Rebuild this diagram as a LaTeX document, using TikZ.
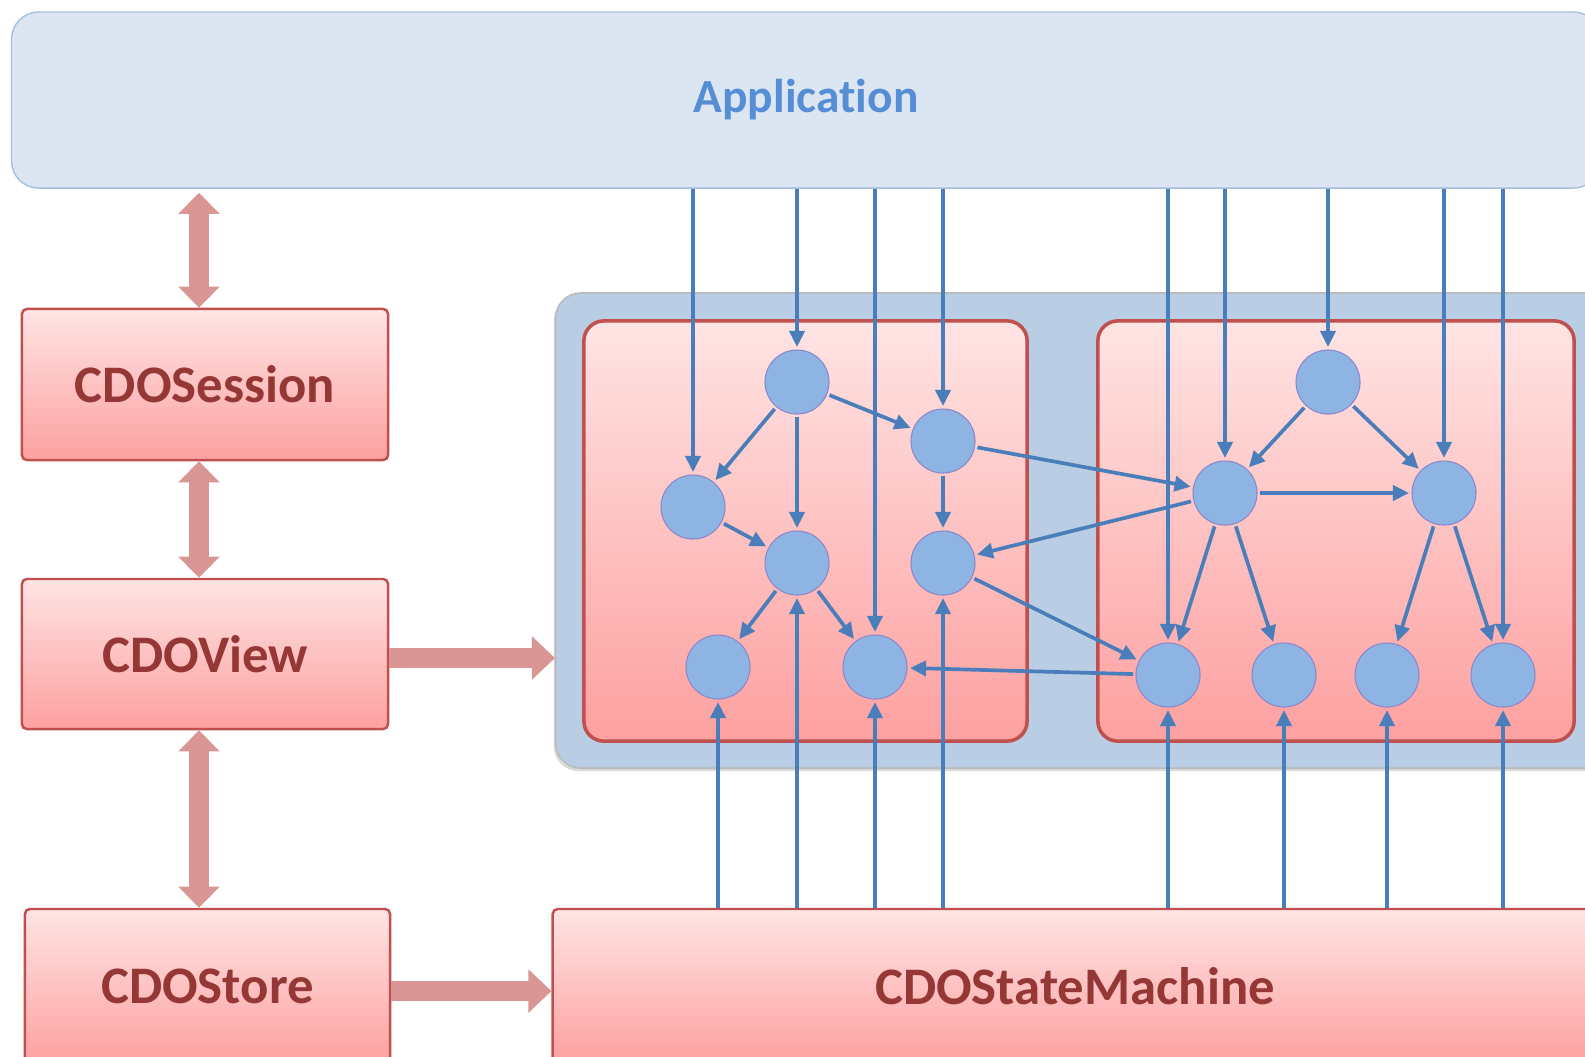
\documentclass[tikz,border=0pt]{standalone}
\usepackage{fontspec}
\setmainfont{Carlito}[Ligatures=NoCommon]
\usetikzlibrary{positioning, arrows.meta, shadows}
\definecolor{appfill}{HTML}{DCE6F2}
\definecolor{appline}{HTML}{A7BFDE}
\definecolor{apptext}{HTML}{558ED5}
\definecolor{redtop}{HTML}{FFE4E4}
\definecolor{redbot}{HTML}{FDA0A0}
\definecolor{redline}{HTML}{C0504D}
\definecolor{redtext}{HTML}{953735}
\definecolor{fatpink}{HTML}{D99694}
\definecolor{panelfill}{HTML}{B9CDE5}
\definecolor{objfill}{HTML}{8EB4E3}
\definecolor{reflink}{HTML}{4A7EBB}

\begin{document}
\begin{tikzpicture}[x=0.01cm, y=-0.01cm,
    redbox/.style={draw=redline, line width=0.7pt, top color=redtop, bottom color=redbot,
      rounded corners=0.05cm, text=redtext, font=\bfseries\fontsize{15}{18}\selectfont},
    obj/.style={circle, fill=objfill, draw=objfill!75!violet, line width=0.3pt,
      minimum size=0.64cm, inner sep=0pt, outer sep=0.03cm},
    ref/.style={draw=reflink, line width=1.05pt, -{Triangle[length=0.16cm, width=0.15cm]}},
    fat/.style={draw=fatpink, line width=0.2cm,
      {Triangle[length=0.21cm, width=0.4cm]}-{Triangle[length=0.21cm, width=0.4cm]}},
    fatright/.style={draw=fatpink, line width=0.2cm, -{Triangle[length=0.23cm, width=0.42cm]}}]
    \useasboundingbox (0,0) rectangle (1585,1056);
    \clip (0,0) rectangle (1585,1056);

    \node[draw=appline, fill=appfill, rounded corners=0.27cm, minimum width=15.88cm,
      minimum height=1.76cm, text=apptext, font=\bfseries\fontsize{13.5}{16}\selectfont]
      (app) at (806,100) {\raisebox{-0.03cm}{Application}};

    \node[redbox, minimum width=3.66cm, minimum height=1.51cm] (session) at (205,384.5) {CDOSession};
    \node[redbox, minimum width=3.66cm, minimum height=1.5cm] (view) at (205,654) {CDOView};
    \node[redbox, minimum width=3.65cm, minimum height=1.54cm] (store) at (207.5,986) {CDOStore};
    \node[redbox, minimum width=10.44cm, minimum height=1.54cm] (sm) at (1075,986) {CDOStateMachine};

    \node[draw=gray!55, fill=panelfill, rounded corners=0.25cm, minimum width=10.7cm,
      minimum height=4.75cm, drop shadow={shadow xshift=-0.02cm, shadow yshift=-0.03cm, opacity=0.3}]
      (panel) at (1091,530.5) {};
    \node[redbox, line width=1pt, rounded corners=0.2cm, minimum width=4.43cm, minimum height=4.2cm]
      (left) at (805.5,531) {};
    \node[redbox, line width=1pt, rounded corners=0.2cm, minimum width=4.76cm, minimum height=4.2cm]
      (right) at (1336,531) {};

    \node[obj] (la) at (797,382) {};
    \node[obj] (lb) at (943,441) {};
    \node[obj] (lc) at (693,507) {};
    \node[obj] (ld) at (797,563) {};
    \node[obj] (le) at (943,563) {};
    \node[obj] (lf) at (718,667) {};
    \node[obj] (lg) at (875,667) {};
    \node[obj] (ra) at (1328,382) {};
    \node[obj] (rb) at (1225,493) {};
    \node[obj] (rc) at (1444,493) {};
    \node[obj] (rd) at (1168,675) {};
    \node[obj] (re) at (1284,675) {};
    \node[obj] (rf) at (1387,675) {};
    \node[obj] (rg) at (1503,675) {};

    \draw[fat, shorten >=0.04cm] ([xshift=-0.06cm]session.north) -- ([xshift=-0.06cm]session.north |- app.south);
    \draw[fat] ([xshift=-0.06cm]session.south) -- ([xshift=-0.06cm]view.north);
    \draw[fat] ([xshift=-0.06cm]view.south) -- ([xshift=-0.06cm]view.south |- store.north);
    \draw[fatright] ([yshift=-0.04cm]view.east) -- ([yshift=-0.04cm]view.east -| panel.west);
    \draw[fatright] ([yshift=-0.05cm]store.east) -- ([yshift=-0.05cm]store.east -| sm.west);

    \foreach \n in {lc,la,lg,lb,rd,rb,ra,rc,rg}
      \draw[ref] (app.south -| \n) -- (\n);
    \foreach \n in {lf,ld,lg,le,rd,re,rf,rg}
      \draw[ref] (sm.north -| \n) -- (\n);

    \draw[ref] (la) -- (lc);
    \draw[ref] (la) -- (ld);
    \draw[ref] (la) -- (lb);
    \draw[ref] (lc) -- (ld);
    \draw[ref] (lb) -- (le);
    \draw[ref] (ld) -- (lf);
    \draw[ref] (ld) -- (lg);
    \draw[ref] (lb) -- (rb);
    \draw[ref] (rb) -- (le);
    \draw[ref] (le) -- (rd);
    \draw[ref] (rd) -- (lg);
    \draw[ref] (ra) -- (rb);
    \draw[ref] (ra) -- (rc);
    \draw[ref] (rb) -- (rc);
    \draw[ref] (rb) -- (rd);
    \draw[ref] (rb) -- (re);
    \draw[ref] (rc) -- (rf);
    \draw[ref] (rc) -- (rg);
  \end{tikzpicture}
\end{document}
